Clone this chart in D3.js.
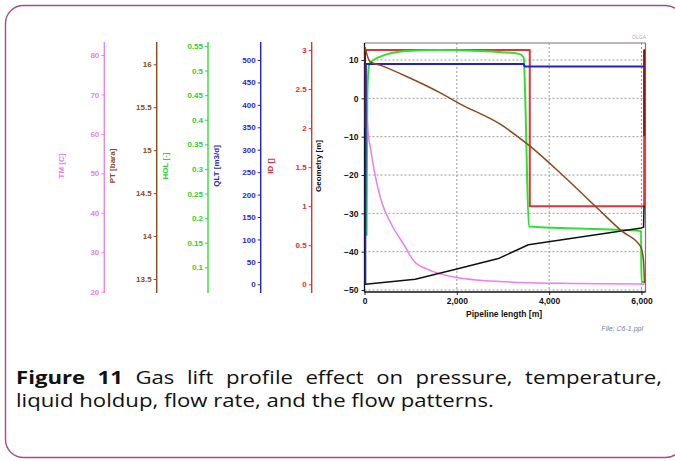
<!DOCTYPE html>
<html>
<head>
<meta charset="utf-8">
<script src="https://cdn.jsdelivr.net/npm/d3@7"></script>
<style>
body{margin:0;background:#fff;}
svg{display:block;}
</style>
</head>
<body>
<svg id="fig" width="675" height="461"></svg>
<script>
//tick values
var xTicks = [0, 2000, 4000, 6000];
var geoTicks = [10, 0, -10, -20, -30, -40, -50];
var tmTicks = [20, 30, 40, 50, 60, 70, 80];
var ptTicks = [13.5, 14, 14.5, 15, 15.5, 16];
var holTicks = [0.1, 0.15, 0.2, 0.25, 0.3, 0.35, 0.4, 0.45, 0.5, 0.55];
var qltTicks = [0, 50, 100, 150, 200, 250, 300, 350, 400, 450, 500];
var idTicks = [0, 0.5, 1, 1.5, 2, 2.5, 3];

//profiles: [pipeline length m, value]
var geometry = [[0,12.5],[20,-48.5],[1100,-47.2],[2000,-44.5],[2900,-41.8],[3550,-38.2],[6000,-33.8],[6045,-33.6],[6055,-28]];
var tm = [[10,80],[80,60],[120,57],[230,49.5],[370,42.8],[590,36.9],[876,31.5],[1000,28.9],[1100,27.4],[1345,25.8],[2000,23.6],[3075,22.5],[4510,22.1],[5960,21.95],[6060,21.9]];
var pt = [[11,16.2],[119,16.03],[335,15.99],[984,15.84],[1632,15.67],[2065,15.54],[2930,15.305],[3578,15.05],[4270,14.72],[5092,14.3],[5567,14.06],[5978,13.88],[6043,13.72],[6065,13.45]];
var hol = [[45,0.164],[60,0.44],[75,0.487],[110,0.515],[330,0.528],[900,0.54],[1600,0.542],[2500,0.54],[3350,0.534],[3450,0.526],[3480,0.45],[3560,0.183],[5990,0.174],[6000,0.07],[6060,0.07]];
var qlt = [[15,0],[30,491],[3450,491],[3470,485.5],[6065,485.5]];
var id = [[10,2],[10,3],[3580,3],[3580,1],[6058,1],[6058,3],[6062,3],[6062,2]];
var idEnds = [[[12,3],[12,2]],[[6060,3],[6060,1.9]]];

var captionLine1 = ["Figure","11","Gas","lift","profile","effect","on","pressure,","temperature,"];
var captionLine2 = "liquid holdup, flow rate, and the flow patterns.";

var svg = d3.select("#fig");
var FONT = "'Liberation Sans', Arial, sans-serif";

//outer rounded frame
svg.append("rect")
	.attr("x",5.5).attr("y",5.5)
	.attr("width",678).attr("height",452)
	.attr("rx",18).attr("ry",18)
	.attr("fill","none")
	.attr("stroke","#a64d86")
	.attr("stroke-width",1.4);

/** side axes **/
var sideAxes = [
	{name:"TM [C]", ticks:tmTicks, d:[20,80], r:[291.7,55], x:104.3, lx:61, color:"#ee82ee", text:"#e383e3", fmt:d3.format("d")},
	{name:"PT [bara]", ticks:ptTicks, d:[13.5,16], r:[279,64.3], x:156.7, lx:112, color:"#8b4a1d", text:"#8b4a1d", fmt:function(v){return String(v);}},
	{name:"HOL [-]", ticks:holTicks, d:[0.1,0.55], r:[267.3,46], x:208, lx:165, color:"#2fe02f", text:"#2fd02f", fmt:function(v){return String(+v.toFixed(2));}},
	{name:"QLT [m3/d]", ticks:qltTicks, d:[0,500], r:[284.3,60], x:260.7, lx:216, color:"#2222cc", text:"#2a2ad0", fmt:d3.format("d")},
	{name:"ID []", ticks:idTicks, d:[0,3], r:[284.3,50], x:311.7, lx:270, color:"#e03030", text:"#e03030", fmt:function(v){return String(v);}}
];

var scales = {};
sideAxes.forEach(function(a){
	var s = d3.scaleLinear().domain(a.d).range(a.r);
	scales[a.name] = s;
	var g = svg.append("g")
		.attr("transform","translate(" + a.x + ",0)")
		.call(d3.axisLeft(s).tickValues(a.ticks).tickSize(3).tickPadding(2).tickFormat(a.fmt));
	g.select(".domain").remove();
	g.selectAll(".tick line").attr("stroke",a.color);
	g.selectAll(".tick text")
		.attr("fill",a.text)
		.style("font-family",FONT)
		.style("font-size","8px")
		.style("font-weight","bold");
	//axis line runs the full height
	g.append("line")
		.attr("x1",0).attr("x2",0)
		.attr("y1",42).attr("y2",293)
		.attr("stroke",a.color)
		.attr("stroke-width",1.4);
	svg.append("text")
		.attr("transform","translate(" + a.lx + ",166) rotate(-90)")
		.attr("text-anchor","middle")
		.attr("dy","0.35em")
		.style("font-family",FONT)
		.style("font-size","8px")
		.style("font-weight","bold")
		.attr("fill",a.text)
		.text(a.name);
});

/** main plot **/
var plot = {left:364.5, right:645.5, top:43, bottom:292};
var x = d3.scaleLinear().domain([0,6000]).range([364.5,641.5]);
var y = d3.scaleLinear().domain([-50,10]).range([290,60]);

//grid
svg.append("g").selectAll("line")
	.data(xTicks.slice(1))
	.enter().append("line")
	.attr("x1",function(d){return x(d);}).attr("x2",function(d){return x(d);})
	.attr("y1",plot.top).attr("y2",plot.bottom)
	.attr("stroke","#9a9a9a").attr("stroke-dasharray","2,2");
svg.append("g").selectAll("line")
	.data(geoTicks)
	.enter().append("line")
	.attr("x1",plot.left).attr("x2",plot.right)
	.attr("y1",function(d){return y(d);}).attr("y2",function(d){return y(d);})
	.attr("stroke","#9a9a9a").attr("stroke-dasharray","2,2");

//frame top/right
svg.append("path")
	.attr("d","M" + plot.left + "," + plot.top + "H" + plot.right + "V" + plot.bottom)
	.attr("fill","none").attr("stroke","#777").attr("stroke-width",1.2);

//axes
var gy = svg.append("g")
	.attr("transform","translate(" + plot.left + ",0)")
	.call(d3.axisLeft(y).tickValues(geoTicks).tickSize(3).tickPadding(3).tickFormat(d3.format("d")));
var gx = svg.append("g")
	.attr("transform","translate(0," + plot.bottom + ")")
	.call(d3.axisBottom(x).tickValues(xTicks).tickSize(3).tickPadding(3).tickFormat(d3.format(",")));
[gx,gy].forEach(function(g){
	g.select(".domain").remove();
	g.selectAll(".tick text")
		.attr("fill","#111")
		.style("font-family",FONT)
		.style("font-size","8.5px")
		.style("font-weight","bold");
	g.selectAll(".tick line").attr("stroke","#222");
});
svg.append("line")
	.attr("x1",plot.left).attr("x2",plot.left)
	.attr("y1",plot.top).attr("y2",plot.bottom)
	.attr("stroke","#111").attr("stroke-width",1.3);
svg.append("line")
	.attr("x1",plot.left).attr("x2",plot.right)
	.attr("y1",plot.bottom).attr("y2",plot.bottom)
	.attr("stroke","#111").attr("stroke-width",1.3);

svg.append("text")
	.attr("x",504).attr("y",317)
	.attr("text-anchor","middle")
	.style("font-family",FONT).style("font-size","8.5px").style("font-weight","bold")
	.attr("fill","#111")
	.text("Pipeline length [m]");
svg.append("text")
	.attr("transform","translate(318,166) rotate(-90)")
	.attr("text-anchor","middle").attr("dy","0.35em")
	.style("font-family",FONT).style("font-size","8px").style("font-weight","bold")
	.attr("fill","#111")
	.text("Geometry [m]");
svg.append("text")
	.attr("x",646).attr("y",39)
	.attr("text-anchor","end")
	.style("font-family",FONT).style("font-size","5px")
	.attr("fill","#aaa")
	.text("OLGA");
svg.append("text")
	.attr("x",643).attr("y",331)
	.attr("text-anchor","end")
	.style("font-family",FONT).style("font-size","7px").style("font-style","italic")
	.attr("fill","#7080a0")
	.text("File: C6-1.ppl");

//profiles
svg.append("clipPath").attr("id","plotClip")
	.append("rect")
	.attr("x",plot.left).attr("y",plot.top - 1)
	.attr("width",plot.right - plot.left + 1).attr("height",plot.bottom - plot.top + 1);
var lines = svg.append("g").attr("clip-path","url(#plotClip)");

function addLine(data, s, color, w, curve){
	var gen = d3.line()
		.curve(curve || d3.curveLinear)
		.x(function(d){return x(d[0]);})
		.y(function(d){return s(d[1]);});
	lines.append("path")
		.attr("d",gen(data))
		.attr("fill","none")
		.attr("stroke",color)
		.attr("stroke-width",w)
		.attr("stroke-linejoin","round");
}

addLine(tm, scales["TM [C]"], "#f07cf0", 1.5, d3.curveMonotoneX);
addLine(id, scales["ID []"], "#e23434", 2);
idEnds.forEach(function(seg){ addLine(seg, scales["ID []"], "#8c1414", 2); });
addLine(hol, scales["HOL [-]"], "#30e030", 2, d3.curveMonotoneX);
addLine(geometry, y, "#111", 1.5);
addLine(qlt, scales["QLT [m3/d]"], "#2222cc", 2);
addLine(pt, scales["PT [bara]"], "#8b4a1d", 1.5, d3.curveMonotoneX);

/** caption **/
var CAP = "'Open Sans', Lato, sans-serif";
var capFs = 18.5;
var capG = svg.append("g");
var l2 = capG.append("text")
	.attr("x",0).attr("y",407)
	.style("font-family",CAP).style("font-size",capFs + "px")
	.attr("fill","#111")
	.text(captionLine2);
//stretch horizontally so line 2 spans the same width as in the figure
var sx = 478 / l2.node().getComputedTextLength();
capG.attr("transform","translate(16,0) scale(" + sx + ",1)");

var words = captionLine1.map(function(w,i){
	var t = capG.append("text")
		.attr("y",384)
		.style("font-family",CAP).style("font-size",capFs + "px")
		.style("font-weight", i < 2 ? "bold" : "normal")
		.attr("fill","#111")
		.text(w);
	return {node:t, w:t.node().getComputedTextLength()};
});
var total = d3.sum(words, function(d){return d.w;});
var gap = (646 / sx - total) / (words.length - 1);
var cx = 0;
words.forEach(function(d){
	d.node.attr("x",cx);
	cx += d.w + gap;
});
</script>
</body>
</html>
